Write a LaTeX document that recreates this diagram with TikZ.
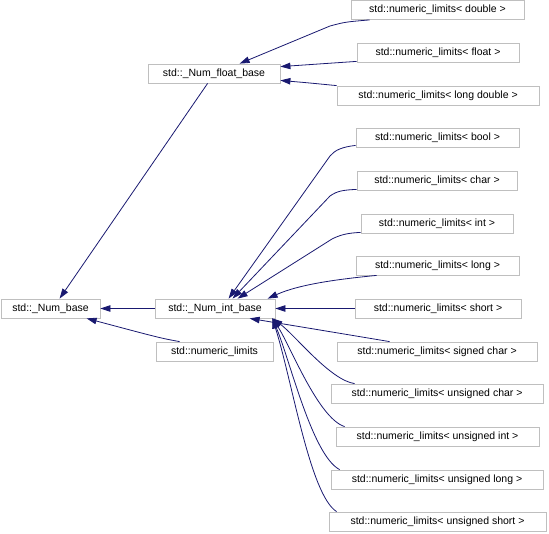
\documentclass[tikz,border=0pt]{standalone}
\usepackage{fontspec}
\setmainfont{Liberation Sans}
\usetikzlibrary{arrows.meta}
\definecolor{edgeblue}{RGB}{25,25,112}
\definecolor{boxgray}{RGB}{191,191,191}
\tikzset{
  cls/.style={draw=boxgray, line width=0.8pt, fill=white, inner sep=0pt,
    minimum height=19pt, font=\fontsize{10.5}{12}\selectfont, text=black},
  inh/.style={draw=edgeblue, line width=0.8pt,
    -{Triangle[length=10pt,width=6.5pt]}, color=edgeblue}
}
\begin{document}
\begin{tikzpicture}[x=1pt,y=-1pt]
\useasboundingbox (0,0) rectangle (549,533);
% nodes
\node[cls, minimum width=99pt]  (nb)   at (50.5,308.5) {std::\_Num\_base};
\node[cls, minimum width=120pt] (nib)  at (215,308.5) {std::\_Num\_int\_base};
\node[cls, minimum width=117pt] (nl)   at (214.5,351.5) {std::numeric\_limits};
\node[cls, minimum width=132pt] (nfb)  at (214,73.5) {std::\_Num\_float\_base};
\node[cls, minimum width=173pt] (dbl)  at (437.5,10) {std::numeric\_limits< double >};
\node[cls, minimum width=162pt] (flt)  at (438,52.5) {std::numeric\_limits< float >};
\node[cls, minimum width=202pt] (ldbl) at (438,95.5) {std::numeric\_limits< long double >};
\node[cls, minimum width=163pt] (bool) at (437.5,137.5) {std::numeric\_limits< bool >};
\node[cls, minimum width=160pt] (chr)  at (437,180.5) {std::numeric\_limits< char >};
\node[cls, minimum width=152pt] (int)  at (437,223.5) {std::numeric\_limits< int >};
\node[cls, minimum width=163pt] (lng)  at (437.5,265.5) {std::numeric\_limits< long >};
\node[cls, minimum width=166pt] (sht)  at (438,308.5) {std::numeric\_limits< short >};
\node[cls, minimum width=200pt] (sch)  at (437,351.5) {std::numeric\_limits< signed char >};
\node[cls, minimum width=212pt] (uch)  at (437,393.5) {std::numeric\_limits< unsigned char >};
\node[cls, minimum width=203pt] (uin)  at (437.5,436.5) {std::numeric\_limits< unsigned int >};
\node[cls, minimum width=212pt] (ulg)  at (437,479.5) {std::numeric\_limits< unsigned long >};
\node[cls, minimum width=217pt] (ush)  at (437.5,521.5) {std::numeric\_limits< unsigned short >};
% float base edges
\draw[inh] ([xshift=19pt]dbl.south west) .. controls (345,22) .. (330,26) -- ([xshift=92pt]nfb.north west);
\draw[inh] ([yshift=1pt]flt.south west) -- ([yshift=-3pt]nfb.north east);
\draw[inh] (ldbl.north west) .. controls (310,83) .. ([yshift=3pt]nfb.south east);
% to Num_base
\draw[inh] ([xshift=60pt]nfb.south west) -- ([xshift=59pt]nb.north west);
\draw[inh] (nib.west) -- (nb.east);
\draw[inh] ([xshift=24pt]nl.north west) .. controls (160,338) .. ([xshift=86pt]nb.south west);
% int base edges
\draw[inh] ([yshift=2pt]bool.south west) .. controls (342,147) and (335,150) .. (330,156) -- ([xshift=74pt]nib.north west);
\draw[inh] ([yshift=1pt]chr.south west) .. controls (343,190) and (337,191) .. (330,196) -- ([xshift=78pt]nib.north west);
\draw[inh] ([yshift=1pt]int.south west) .. controls (347,233) and (340,235) .. (332,239) -- ([xshift=83pt]nib.north west);
\draw[inh] ([xshift=21pt]lng.south west) .. controls (340,279) and (300,284) .. ([xshift=113pt]nib.north west);
\draw[inh] (sht.west) -- (nib.east);
\draw[inh] ([xshift=53pt]sch.north west) .. controls (320,330) .. ([xshift=95pt]nib.south west);
\draw[inh] ([xshift=24pt]uch.north west) .. controls (330,380) and (295,335) .. ([xshift=-3pt]nib.south east);
\draw[inh] ([xshift=9pt]uin.north west) .. controls (318,418) and (290,345) .. ([xshift=-3pt]nib.south east);
\draw[inh] ([xshift=9pt]ulg.north west) .. controls (312,455) and (290,360) .. ([xshift=-3pt]nib.south east);
\draw[inh] ([xshift=8pt]ush.north west) .. controls (310,495) and (292,380) .. ([xshift=-3pt]nib.south east);
\end{tikzpicture}
\end{document}
